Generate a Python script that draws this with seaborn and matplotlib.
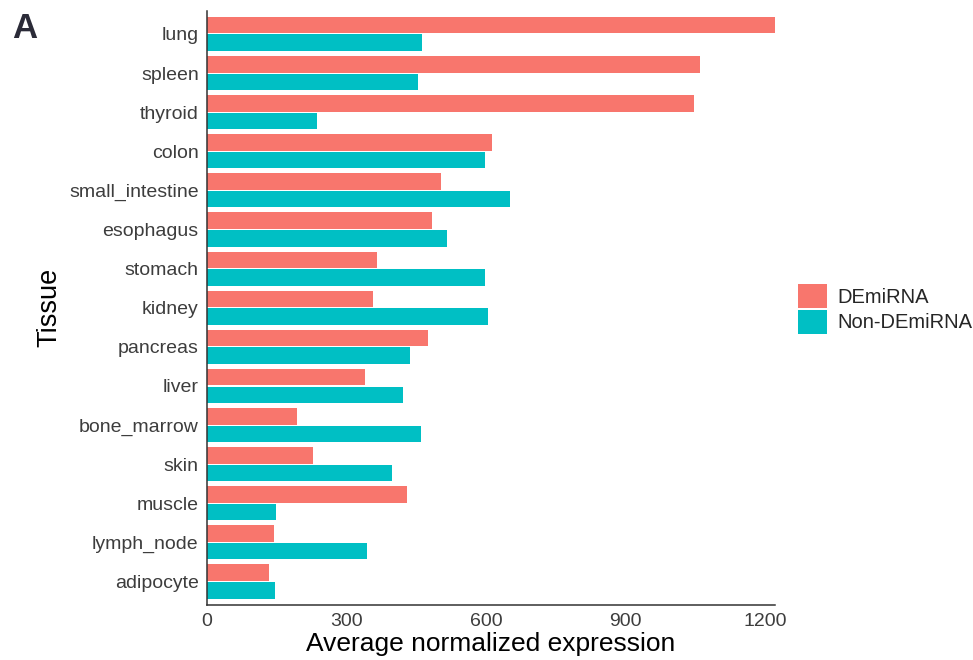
import matplotlib
matplotlib.use("Agg")
import matplotlib.pyplot as plt
import seaborn as sns
import pandas as pd

tissues = ["lung", "spleen", "thyroid", "colon", "small_intestine", "esophagus",
           "stomach", "kidney", "pancreas", "liver", "bone_marrow", "skin",
           "muscle", "lymph_node", "adipocyte"]
de_mirna = [1222, 1060, 1047, 614, 504, 484, 365, 358, 475, 339, 193, 227, 431, 145, 134]
non_de_mirna = [462, 454, 236, 599, 651, 517, 599, 605, 436, 422, 461, 397, 148, 344, 147]
groups = ["DEmiRNA", "Non-DEmiRNA"]
colors = ["#F8766D", "#00BFC4"]
x_ticks = [0, 300, 600, 900, 1200]

df = pd.DataFrame({
    "Tissue": tissues * 2,
    "Expression": de_mirna + non_de_mirna,
    "Group": [groups[0]] * len(tissues) + [groups[1]] * len(tissues),
})

sns.set_style("white")
plt.rcParams["font.family"] = ["Liberation Sans", "DejaVu Sans"]

fig = plt.figure(figsize=(9.73, 6.6), dpi=100)
ax = fig.add_axes([207 / 973, 1 - 605 / 660, (775 - 207) / 973, (605 - 10.5) / 660])

sns.barplot(data=df, x="Expression", y="Tissue", hue="Group", order=tissues,
            hue_order=groups, palette=colors, orient="h", width=0.9, gap=0.06,
            saturation=1, edgecolor="none", linewidth=0, ax=ax, legend=True)

ax.set_xlim(0, max(de_mirna + non_de_mirna))
ax.set_ylim(len(tissues) - 1 + 0.6, -0.6)
ax.set_xticks(x_ticks)
ax.set_xticklabels([str(t) for t in x_ticks])

for side in ["top", "right"]:
    ax.spines[side].set_visible(False)
for side in ["left", "bottom"]:
    ax.spines[side].set_color("#333333")
    ax.spines[side].set_linewidth(1.1)

ax.tick_params(axis="both", which="major", direction="out", length=4, width=1,
               color="#333333", labelsize=14, labelcolor="#3D3D3D", pad=2)
ax.set_xlabel("Average normalized expression", fontsize=19, color="black", labelpad=1)
ax.set_ylabel("Tissue", fontsize=19.5, color="black", labelpad=5)

leg = ax.get_legend()
handles = leg.legend_handles
leg.remove()
fig.legend(handles, groups, loc="center left", bbox_to_anchor=(798 / 973, 1 - 309 / 660),
           frameon=False, fontsize=14.5, handlelength=1.45, handleheight=1.45,
           labelspacing=0.08, handletextpad=0.5, borderpad=0, borderaxespad=0)

fig.text(12 / 973, 1 - 38 / 660, "A", fontsize=25, fontweight="bold", color="#2B2B38",
         ha="left", va="baseline")

fig.savefig("out.png", dpi=100)
